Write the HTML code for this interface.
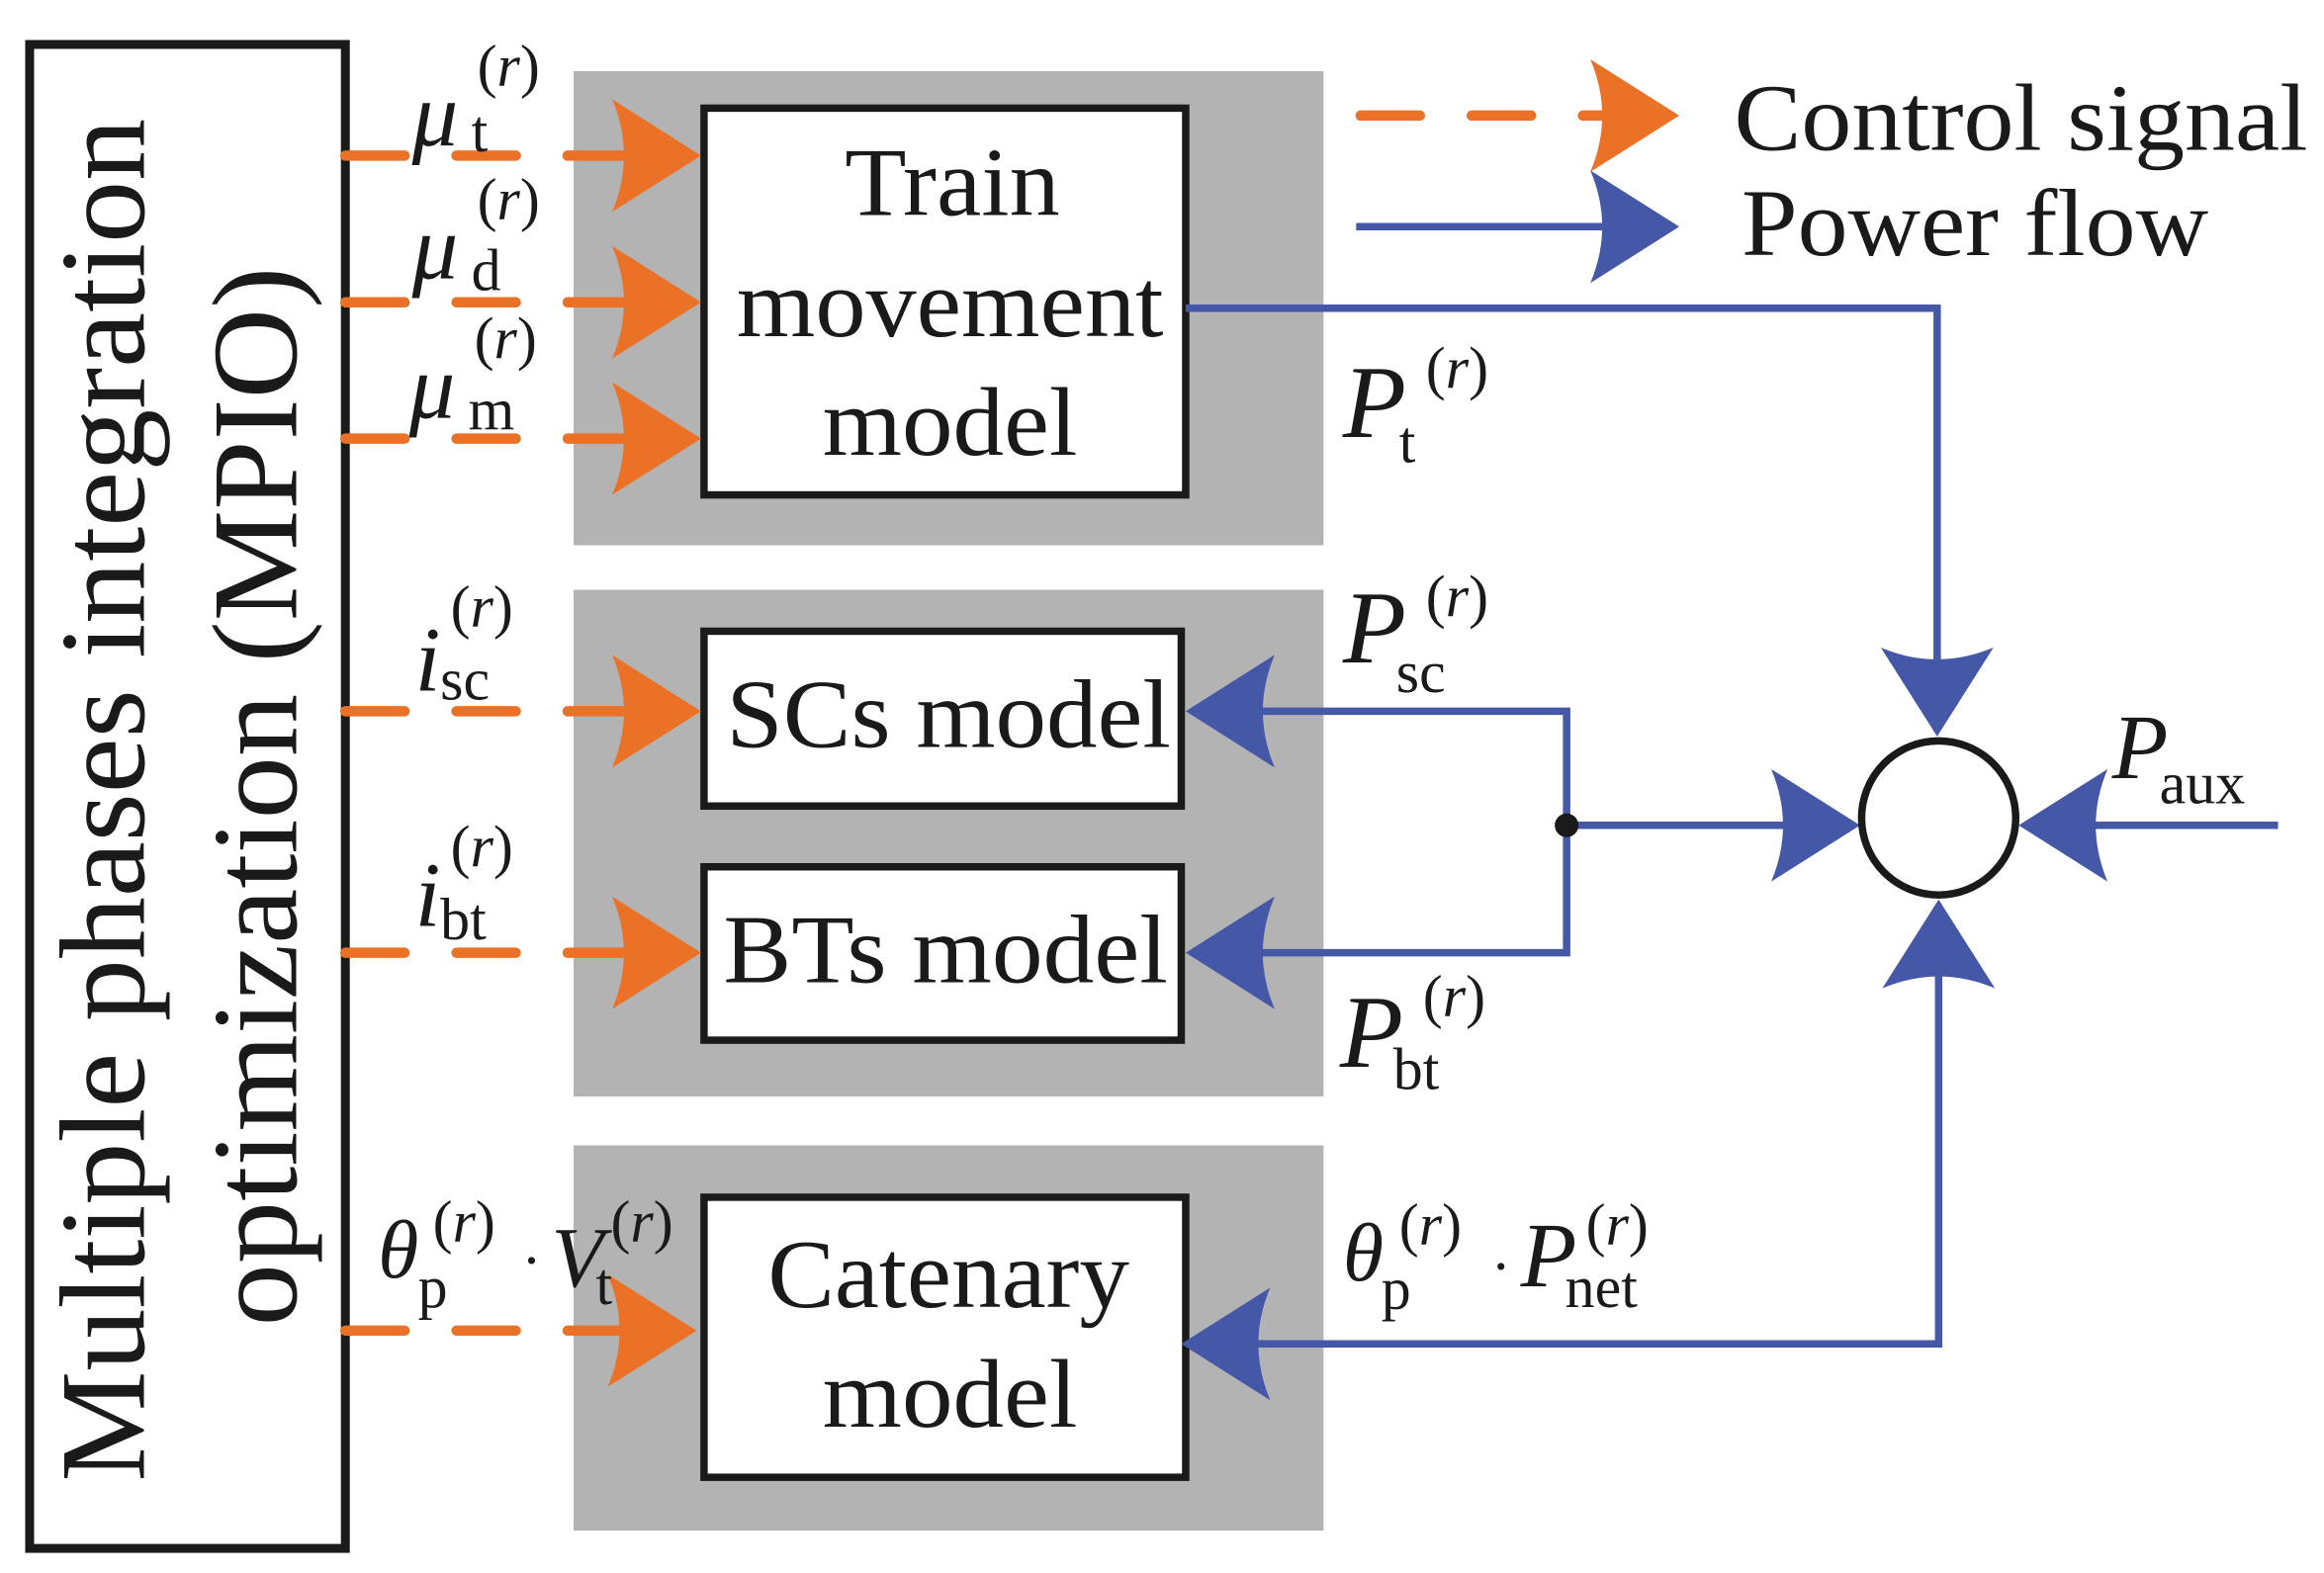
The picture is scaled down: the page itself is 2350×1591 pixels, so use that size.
<!DOCTYPE html>
<html><head><meta charset="utf-8"><style>
html,body{margin:0;padding:0;background:#fff;}
svg{display:block;}
text{font-family:"Liberation Serif",serif;fill:#1a1a1a;}
.it{font-style:italic;}
</style></head><body>
<svg width="2350" height="1591" viewBox="0 0 1568 1061.6" preserveAspectRatio="none">
<defs>
<path id="ar" d="M0,0 L-60,-38 Q-44,0 -60,38 Z"/>
</defs>
<rect x="387" y="48" width="506" height="320" fill="#b3b3b3"/>
<rect x="387" y="398" width="506" height="342" fill="#b3b3b3"/>
<rect x="387" y="773" width="506" height="260" fill="#b3b3b3"/>
<rect x="20" y="30" width="213" height="1015" fill="#fff" stroke="#1a1a1a" stroke-width="6"/>
<text transform="translate(97,1000) rotate(-90)" font-size="82" textLength="920" lengthAdjust="spacingAndGlyphs">Multiple phases integration</text>
<text transform="translate(200,895) rotate(-90)" font-size="82" textLength="715" lengthAdjust="spacingAndGlyphs">optimization (MPIO)</text>
<rect x="475" y="73" width="325" height="261" fill="#fff" stroke="#1a1a1a" stroke-width="5"/>
<text x="570" y="145" font-size="66" textLength="145" lengthAdjust="spacingAndGlyphs">Train</text>
<text x="497" y="227" font-size="66" textLength="288" lengthAdjust="spacingAndGlyphs">movement</text>
<text x="555" y="307" font-size="66" textLength="172" lengthAdjust="spacingAndGlyphs">model</text>
<rect x="475" y="426" width="322" height="118" fill="#fff" stroke="#1a1a1a" stroke-width="5"/>
<text x="490" y="504" font-size="66" textLength="300" lengthAdjust="spacingAndGlyphs">SCs model</text>
<rect x="475" y="585" width="322" height="117" fill="#fff" stroke="#1a1a1a" stroke-width="5"/>
<text x="488" y="663" font-size="66" textLength="300" lengthAdjust="spacingAndGlyphs">BTs model</text>
<rect x="475" y="808" width="325" height="189" fill="#fff" stroke="#1a1a1a" stroke-width="5"/>
<text x="518" y="882" font-size="66" textLength="244" lengthAdjust="spacingAndGlyphs">Catenary</text>
<text x="555" y="963" font-size="66" textLength="172" lengthAdjust="spacingAndGlyphs">model</text>
<g stroke="#ea7125" stroke-width="7" stroke-linecap="round" stroke-dasharray="40 35" fill="none">
<path d="M233,105 H420"/><path d="M233,204 H420"/><path d="M233,296 H420"/>
<path d="M233,480 H420"/><path d="M233,643 H420"/><path d="M233,898 H420"/>
<path d="M918,78 H1090"/>
</g>
<g fill="#ea7125">
<use href="#ar" x="473" y="105"/><use href="#ar" x="473" y="204"/><use href="#ar" x="473" y="296"/>
<use href="#ar" x="473" y="480"/><use href="#ar" x="473" y="643"/><use href="#ar" x="470" y="898"/>
<use href="#ar" x="1133" y="78"/>
</g>
<g stroke="#4557a7" stroke-width="5" fill="none">
<path d="M800,208 H1307 V470"/>
<path d="M830,480 H1057 V643 H830"/>
<path d="M1057,557 H1230"/>
<path d="M1537,557 H1390"/>
<path d="M830,907 H1308 V630"/>
<path d="M915,153 H1100"/>
</g>
<g fill="#4557a7">
<use href="#ar" x="1133" y="153"/>
<use href="#ar" transform="translate(1307,497) rotate(90)"/>
<use href="#ar" transform="translate(800,480) rotate(180)"/>
<use href="#ar" transform="translate(800,643) rotate(180)"/>
<use href="#ar" x="1255" y="557"/>
<use href="#ar" transform="translate(1362,557) rotate(180)"/>
<use href="#ar" transform="translate(797,907) rotate(180)"/>
<use href="#ar" transform="translate(1308,607) rotate(-90)"/>
</g>
<circle cx="1057" cy="557" r="8" fill="#1a1a1a"/>
<circle cx="1308" cy="552" r="52" fill="#fff" stroke="#1a1a1a" stroke-width="5"/>
<text x="1170" y="101" font-size="64" textLength="387" lengthAdjust="spacingAndGlyphs">Control signal</text>
<text x="1175" y="172" font-size="64" textLength="315" lengthAdjust="spacingAndGlyphs">Power flow</text>
<g font-size="40">
<text x="278" y="98" font-size="62" class="it">μ</text><text x="318" y="102">t</text><text x="322" y="58">(<tspan class="it">r</tspan>)</text>
<text x="278" y="188" font-size="62" class="it">μ</text><text x="318" y="196">d</text><text x="322" y="148">(<tspan class="it">r</tspan>)</text>
<text x="276" y="282" font-size="62" class="it">μ</text><text x="316" y="290">m</text><text x="320" y="242">(<tspan class="it">r</tspan>)</text>
<text x="280" y="466" font-size="62" class="it">i</text><text x="297" y="472">sc</text><text x="304" y="423">(<tspan class="it">r</tspan>)</text>
<text x="280" y="625" font-size="62" class="it">i</text><text x="297" y="634">bt</text><text x="304" y="585">(<tspan class="it">r</tspan>)</text>
<text x="255" y="862" font-size="56" class="it">θ</text><text x="282" y="882">p</text><text x="292" y="838">(<tspan class="it">r</tspan>)</text>
<text x="352" y="864">·</text><text x="372" y="868" font-size="58" class="it">V</text><text x="402" y="880">t</text><text x="412" y="838">(<tspan class="it">r</tspan>)</text>
<text x="906" y="295" font-size="70" class="it">P</text><text x="944" y="312">t</text><text x="962" y="262">(<tspan class="it">r</tspan>)</text>
<text x="906" y="447" font-size="70" class="it">P</text><text x="942" y="467">sc</text><text x="962" y="416">(<tspan class="it">r</tspan>)</text>
<text x="904" y="720" font-size="70" class="it">P</text><text x="940" y="735">bt</text><text x="960" y="686">(<tspan class="it">r</tspan>)</text>
<text x="1425" y="525" font-size="62" class="it">P</text><text x="1457" y="542">aux</text>
<text x="906" y="864" font-size="56" class="it">θ</text><text x="932" y="883">p</text><text x="944" y="840">(<tspan class="it">r</tspan>)</text>
<text x="1006" y="868">·</text><text x="1026" y="868" font-size="62" class="it">P</text><text x="1056" y="882">net</text><text x="1070" y="840">(<tspan class="it">r</tspan>)</text>
</g>
</svg>
</body></html>
